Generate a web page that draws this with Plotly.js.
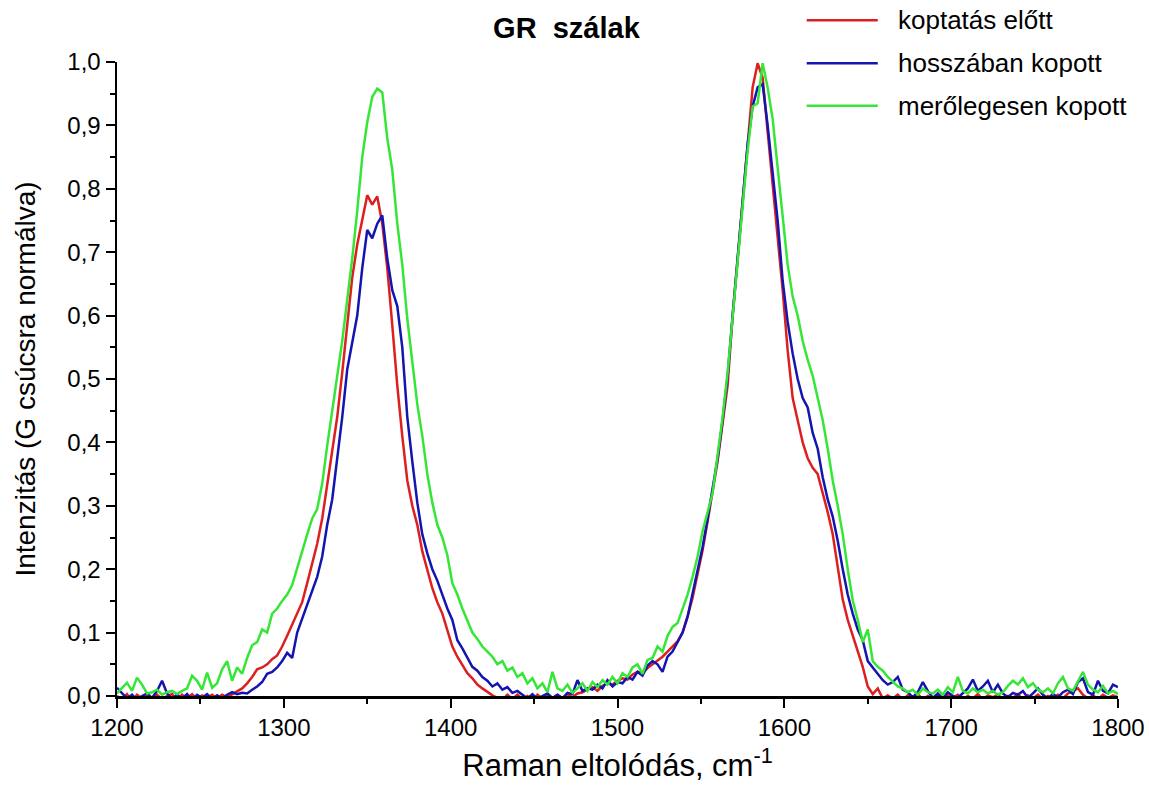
<!DOCTYPE html>
<html><head><meta charset="utf-8">
<script src="https://cdn.plot.ly/plotly-3.0.1.min.js"></script>
<style>html,body{margin:0;padding:0;background:#fff}#chart{width:1149px;height:785px}</style>
</head><body><div id="chart"></div>
<script>
// Raman shift, cm^-1
const wavenumber = [
1200,1203,1206,1209,1212,1215,1218,1221,1224,1227,
1230,1233,1236,1239,1242,1245,1248,1251,1254,1257,
1260,1263,1266,1269,1272,1275,1278,1281,1284,1287,
1290,1293,1296,1299,1302,1305,1308,1311,1314,1317,
1320,1323,1326,1329,1332,1335,1338,1341,1344,1347,
1350,1353,1356,1359,1362,1365,1368,1371,1374,1377,
1380,1383,1386,1389,1392,1395,1398,1401,1404,1407,
1410,1413,1416,1419,1422,1425,1428,1431,1434,1437,
1440,1443,1446,1449,1452,1455,1458,1461,1464,1467,
1470,1473,1476,1479,1482,1485,1488,1491,1494,1497,
1500,1503,1506,1509,1512,1515,1518,1521,1524,1527,
1530,1533,1536,1539,1542,1545,1548,1551,1554,1557,
1560,1563,1566,1569,1572,1575,1578,1581,1584,1587,
1590,1593,1596,1599,1602,1605,1608,1611,1614,1617,
1620,1623,1626,1629,1632,1635,1638,1641,1644,1647,
1650,1653,1656,1659,1662,1665,1668,1671,1674,1677,
1680,1683,1686,1689,1692,1695,1698,1701,1704,1707,
1710,1713,1716,1719,1722,1725,1728,1731,1734,1737,
1740,1743,1746,1749,1752,1755,1758,1761,1764,1767,
1770,1773,1776,1779,1782,1785,1788,1791,1794,1797,
1800];

// koptatás előtt (red)
const koptatasElott = [
0.000,-0.005,0.003,-0.008,0.002,-0.004,0.003,-0.006,0.002,-0.005,
0.000,0.003,-0.006,0.002,-0.004,0.003,-0.005,0.001,-0.003,0.002,
-0.004,0.002,-0.002,0.003,0.008,0.012,0.020,0.030,0.042,0.045,
0.050,0.058,0.064,0.078,0.095,0.112,0.130,0.148,0.178,0.210,
0.240,0.280,0.335,0.385,0.440,0.510,0.585,0.660,0.712,0.752,
0.790,0.775,0.788,0.745,0.675,0.585,0.490,0.410,0.340,0.300,
0.270,0.228,0.200,0.170,0.148,0.130,0.104,0.078,0.062,0.048,
0.036,0.028,0.018,0.012,0.006,0.001,-0.003,-0.006,0.002,-0.005,
0.002,-0.005,0.000,-0.007,0.002,-0.004,0.001,-0.006,0.002,-0.003,
0.003,-0.002,0.004,0.006,0.010,0.014,0.008,0.016,0.020,0.018,
0.024,0.028,0.026,0.034,0.038,0.036,0.044,0.050,0.056,0.062,
0.070,0.078,0.086,0.100,0.125,0.155,0.190,0.230,0.275,0.320,
0.370,0.430,0.490,0.600,0.690,0.790,0.880,0.960,0.998,0.975,
0.890,0.810,0.720,0.640,0.545,0.470,0.435,0.400,0.375,0.360,
0.350,0.320,0.290,0.255,0.205,0.152,0.120,0.095,0.070,0.046,
0.015,0.003,0.012,-0.004,0.001,-0.004,0.002,-0.006,0.001,-0.003,
0.003,-0.005,0.000,-0.004,0.002,-0.006,0.001,-0.003,0.002,-0.005,
0.000,-0.004,0.003,-0.006,0.001,-0.002,0.002,-0.005,0.000,-0.003,
0.003,-0.006,0.001,-0.004,0.002,-0.005,0.000,-0.003,0.002,-0.004,
0.004,0.008,0.012,0.002,-0.004,0.001,-0.005,0.002,-0.003,0.001,
-0.002];

// hosszában kopott (blue)
const hosszabanKopott = [
0.013,0.004,-0.004,0.002,-0.006,0.000,0.004,-0.003,0.008,0.024,
0.004,-0.005,0.002,-0.004,0.003,-0.006,0.002,-0.003,0.003,-0.005,
0.001,-0.004,0.002,0.006,0.003,0.005,0.004,0.010,0.015,0.022,
0.035,0.038,0.045,0.055,0.068,0.060,0.100,0.122,0.143,0.165,
0.188,0.220,0.270,0.310,0.375,0.440,0.515,0.560,0.600,0.675,
0.735,0.722,0.745,0.758,0.690,0.640,0.615,0.550,0.440,0.370,
0.305,0.255,0.225,0.200,0.182,0.160,0.138,0.120,0.088,0.075,
0.060,0.046,0.040,0.030,0.024,0.015,0.020,0.010,0.014,0.005,
0.008,0.002,-0.004,0.003,-0.005,0.000,0.004,-0.003,0.002,-0.004,
0.005,0.003,0.025,0.008,0.012,0.010,0.018,0.012,0.025,0.015,
0.022,0.020,0.030,0.026,0.038,0.032,0.048,0.055,0.050,0.038,
0.062,0.070,0.085,0.100,0.125,0.160,0.195,0.235,0.280,0.325,
0.375,0.435,0.505,0.600,0.685,0.780,0.870,0.930,0.960,0.965,
0.900,0.820,0.750,0.655,0.590,0.540,0.500,0.470,0.455,0.415,
0.390,0.345,0.310,0.283,0.245,0.200,0.160,0.130,0.105,0.088,
0.055,0.045,0.034,0.025,0.018,0.022,0.030,0.010,0.006,-0.002,
0.006,0.022,0.008,-0.003,0.004,-0.004,0.006,0.000,-0.003,0.004,
0.012,0.026,0.008,0.015,0.024,0.006,0.018,0.004,-0.002,0.005,
0.002,0.008,-0.003,0.004,0.012,0.002,-0.004,0.003,-0.002,0.006,
0.010,0.003,0.022,0.028,0.006,0.002,0.024,0.008,0.004,0.018,
0.014];

// merőlegesen kopott (green)
const merolegesenKopott = [
0.004,0.012,0.021,0.008,0.029,0.018,0.004,0.006,0.010,0.002,
0.006,0.008,0.003,0.008,0.012,0.032,0.024,0.010,0.037,0.013,
0.020,0.042,0.055,0.024,0.045,0.035,0.060,0.080,0.085,0.105,
0.100,0.130,0.138,0.150,0.160,0.175,0.200,0.228,0.255,0.280,
0.295,0.335,0.395,0.450,0.510,0.560,0.625,0.690,0.765,0.850,
0.905,0.945,0.958,0.952,0.880,0.830,0.745,0.680,0.595,0.530,
0.460,0.410,0.350,0.305,0.270,0.250,0.222,0.178,0.160,0.138,
0.120,0.100,0.090,0.078,0.070,0.062,0.050,0.055,0.040,0.045,
0.030,0.036,0.020,0.028,0.012,0.020,0.006,0.038,0.012,0.008,
0.018,0.005,0.012,0.020,0.008,0.022,0.014,0.025,0.018,0.030,
0.020,0.036,0.030,0.045,0.050,0.035,0.057,0.060,0.078,0.070,
0.095,0.109,0.115,0.136,0.160,0.188,0.220,0.260,0.290,0.320,
0.380,0.440,0.510,0.600,0.690,0.770,0.860,0.930,0.935,0.998,
0.960,0.910,0.830,0.750,0.680,0.630,0.600,0.560,0.530,0.505,
0.470,0.435,0.390,0.340,0.300,0.255,0.200,0.151,0.120,0.085,
0.105,0.055,0.046,0.040,0.030,0.022,0.015,0.012,0.006,0.010,
0.002,0.012,0.006,0.004,0.010,0.002,0.014,0.006,0.030,0.008,
0.004,0.012,0.006,0.010,0.004,0.008,0.002,0.006,0.016,0.024,
0.018,0.028,0.014,0.020,0.010,0.006,0.012,0.004,0.020,0.030,
0.012,0.008,0.022,0.038,0.018,0.010,0.006,0.016,0.004,0.008,
0.003];

const seriesNames = ['koptatás előtt', 'hosszában kopott', 'merőlegesen kopott'];
const seriesColors = ['#dc1f1f', '#1414b0', '#36e636'];
const chartTitle = 'GR\u00a0\u00a0szálak';
const xTitle = 'Raman eltolódás, cm<sup>-1</sup>';
const yTitle = 'Intenzitás (G csúcsra normálva)';

const FONT = 'Liberation Sans, Arial, Helvetica, sans-serif';
const seriesValues = [koptatasElott, hosszabanKopott, merolegesenKopott];

const traces = seriesValues.map((vals, i) => ({
  type: 'scatter', mode: 'lines',
  x: wavenumber, y: vals,
  name: seriesNames[i],
  line: {color: seriesColors[i], width: 2.5},
  showlegend: false, hoverinfo: 'skip'
}));

// legend drawn as line samples + labels at the top right, as in the original
const legendRowsY = [1.066, 0.998, 0.931];
const shapes = [], annotations = [];
seriesNames.forEach((n, i) => {
  shapes.push({type: 'line', xref: 'paper', yref: 'paper',
    x0: 0.689, x1: 0.760, y0: legendRowsY[i], y1: legendRowsY[i],
    line: {color: seriesColors[i], width: 2.5}});
  annotations.push({xref: 'paper', yref: 'paper', x: 0.778, y: legendRowsY[i],
    xanchor: 'left', yanchor: 'middle', showarrow: false, text: n,
    font: {family: FONT, size: 26, color: '#000'}});
});

const layout = {
  width: 1149, height: 785,
  paper_bgcolor: '#fff', plot_bgcolor: '#fff',
  margin: {l: 117, r: 31, t: 62, b: 89},
  separators: ',.',
  font: {family: FONT, color: '#000'},
  title: {text: chartTitle, x: 0.449, xref: 'paper', xanchor: 'center',
          y: 0.965, yref: 'container', yanchor: 'middle',
          font: {family: FONT, size: 29, color: '#000', weight: 'bold'}},
  xaxis: {
    range: [1200, 1800], dtick: 100, tick0: 1200,
    showgrid: false, zeroline: false, showline: true, linecolor: '#000', linewidth: 2.5,
    ticks: 'outside', ticklen: 9, tickwidth: 2, tickcolor: '#000',
    minor: {dtick: 50, ticks: 'outside', ticklen: 5, tickwidth: 2, tickcolor: '#000'},
    tickfont: {family: FONT, size: 24, color: '#000'},
    title: {text: xTitle, standoff: 14, font: {family: FONT, size: 31, color: '#000'}}
  },
  yaxis: {
    range: [0, 1], dtick: 0.1, tick0: 0, tickformat: '.1f',
    showgrid: false, zeroline: false, showline: true, linecolor: '#000', linewidth: 2.5,
    ticks: 'outside', ticklen: 9, tickwidth: 2, tickcolor: '#000',
    minor: {dtick: 0.05, ticks: 'outside', ticklen: 5, tickwidth: 2, tickcolor: '#000'},
    tickfont: {family: FONT, size: 24, color: '#000'},
    title: {text: yTitle, standoff: 24, font: {family: FONT, size: 28, color: '#000'}}
  },
  shapes: shapes,
  annotations: annotations,
  showlegend: false
};

Plotly.newPlot('chart', traces, layout, {staticPlot: true, displayModeBar: false});
</script>
</body></html>
